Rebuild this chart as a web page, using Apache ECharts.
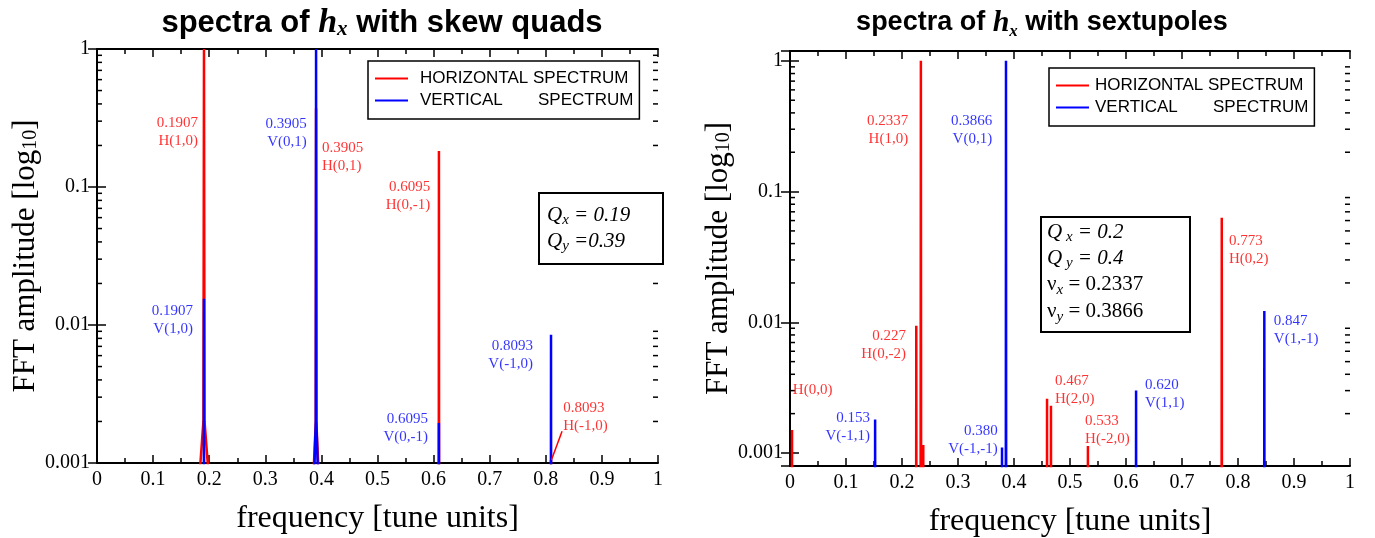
<!DOCTYPE html>
<html>
<head>
<meta charset="utf-8">
<script src="https://cdn.jsdelivr.net/npm/echarts@6/dist/echarts.min.js"></script>
<style>
html, body { margin: 0; padding: 0; background: #fff; }
#chart { width: 1375px; height: 538px; }
</style>
</head>
<body>
<div id="chart"></div>
<script>
// ---- data: [frequency, amplitude] ----
// left panel, skew quads
var skewH = [
  [0.179, 0.0005], [0.1897, 0.002], [0.1907, 1], [0.1917, 0.002], [0.203, 0.0005],
  [0.3835, 0.0005], [0.3900, 0.002], [0.3905, 0.37], [0.3910, 0.002], [0.3975, 0.0005],
  [0.6090, 0.00001], [0.6095, 0.182], [0.6100, 0.00001],
  [0.8088, 0.00001], [0.8093, 0.00105], [0.8098, 0.00001]
];
var skewV = [
  [0.1902, 0.00001], [0.1907, 0.0155], [0.1912, 0.00001],
  [0.3855, 0.0005], [0.3900, 0.002], [0.3905, 1], [0.3910, 0.002], [0.3955, 0.0005],
  [0.6090, 0.00001], [0.6095, 0.00195], [0.6100, 0.00001],
  [0.8088, 0.00001], [0.8093, 0.0085], [0.8098, 0.00001]
];
// right panel, sextupoles
var sextH = [
  [0.0031, 0.00001], [0.0036, 0.0015], [0.0041, 0.00001],
  [0.2250, 0.00001], [0.2255, 0.0094], [0.2260, 0.00001],
  [0.2330, 0.00001], [0.2337, 1], [0.2344, 0.00001],
  [0.2375, 0.00001], [0.2380, 0.00115], [0.2385, 0.00001],
  [0.4585, 0.00001], [0.4590, 0.0026], [0.4595, 0.00001],
  [0.4655, 0.00001], [0.4660, 0.0023], [0.4665, 0.00001],
  [0.5315, 0.00001], [0.5320, 0.00113], [0.5325, 0.00001],
  [0.7705, 0.00001], [0.7710, 0.063], [0.7715, 0.00001]
];
var sextV = [
  [0.1515, 0.00001], [0.1520, 0.0018], [0.1525, 0.00001],
  [0.3781, 0.00001], [0.3786, 0.0011], [0.3791, 0.00001],
  [0.3852, 0.00001], [0.3857, 1], [0.3862, 0.00001],
  [0.6175, 0.00001], [0.6180, 0.0030], [0.6185, 0.00001],
  [0.8465, 0.00001], [0.8470, 0.0122], [0.8475, 0.00001]
];

// peak notes: [frequency, amplitude, text, side of anchor, spectrum]
var skewNotes = [
  [0.180, 0.25, '0.1907\nH(1,0)', 'left', 'H'],
  [0.374, 0.246, '0.3905\nV(0,1)', 'left', 'V'],
  [0.401, 0.165, '0.3905\nH(0,1)', 'right', 'H'],
  [0.594, 0.086, '0.6095\nH(0,-1)', 'left', 'H'],
  [0.171, 0.0109, '0.1907\nV(1,0)', 'left', 'V'],
  [0.590, 0.00179, '0.6095\nV(0,-1)', 'left', 'V'],
  [0.777, 0.00607, '0.8093\nV(-1,0)', 'left', 'V'],
  [0.831, 0.00215, '0.8093\nH(-1,0)', 'right', 'H']
];
var sextNotes = [
  [0.211, 0.297, '0.2337\nH(1,0)', 'left', 'H'],
  [0.361, 0.297, '0.3866\nV(0,1)', 'left', 'V'],
  [0.207, 0.0067, '0.227\nH(0,-2)', 'left', 'H'],
  [0.005, 0.00304, 'H(0,0)', 'right', 'H'],
  [0.143, 0.00158, '0.153\nV(-1,1)', 'left', 'V'],
  [0.371, 0.00126, '0.380\nV(-1,-1)', 'left', 'V'],
  [0.473, 0.00304, '0.467\nH(2,0)', 'right', 'H'],
  [0.527, 0.0015, '0.533\nH(-2,0)', 'right', 'H'],
  [0.634, 0.00283, '0.620\nV(1,1)', 'right', 'V'],
  [0.784, 0.0358, '0.773\nH(0,2)', 'right', 'H'],
  [0.864, 0.00875, '0.847\nV(1,-1)', 'right', 'V']
];

var xTicks = ['0', '0.1', '0.2', '0.3', '0.4', '0.5', '0.6', '0.7', '0.8', '0.9', '1'];
var yTickLabels = { '-3': '0.001', '-2': '0.01', '-1': '0.1', '0': '1' };
var yMinorTicks = [0.002, 0.003, 0.004, 0.005, 0.006, 0.007, 0.008, 0.009,
  0.02, 0.03, 0.04, 0.05, 0.06, 0.07, 0.08, 0.09,
  0.2, 0.3, 0.4, 0.5, 0.6, 0.7, 0.8, 0.9];

var H_NAME = 'HORIZONTAL SPECTRUM';
var V_NAME = 'VERTICAL SPECTRUM';
var RED = '#ff0000', BLUE = '#0000ff';
var SERIF = 'Liberation Serif', SANS = 'Liberation Sans';

var myChart = echarts.init(document.getElementById('chart'));

function xAxes(grid) {
  var common = {
    gridIndex: grid, type: 'value', min: 0, max: 1, interval: 0.1,
    axisLine: { lineStyle: { color: '#000', width: 2 } },
    axisTick: { inside: true, length: 8, lineStyle: { color: '#000', width: 1.5 } },
    minorTick: { show: true, splitNumber: 2, length: 5, lineStyle: { color: '#000', width: 1.5 } },
    splitLine: { show: false }
  };
  return [
    Object.assign({}, common, {
      position: 'bottom',
      name: 'frequency [tune units]', nameLocation: 'middle', nameGap: 40,
      nameTextStyle: { fontFamily: SERIF, fontSize: 32, color: '#000' },
      axisLabel: {
        margin: 7, fontFamily: SERIF, fontSize: 20, color: '#000',
        formatter: function (v) { return xTicks[Math.round(v * 10)]; }
      }
    }),
    Object.assign({}, common, { position: 'top', axisLabel: { show: false } })
  ];
}

function yAxes(grid, min, max) {
  var common = {
    gridIndex: grid, type: 'log', logBase: 10, min: min, max: max,
    axisLine: { lineStyle: { color: '#000', width: 2 } },
    axisTick: { inside: true, length: 9, lineStyle: { color: '#000', width: 1.5 } },
    splitLine: { show: false }
  };
  return [
    Object.assign({}, common, {
      position: 'left',
      name: 'FFT amplitude [log{s|10}]', nameLocation: 'middle', nameGap: 55,
      nameTextStyle: {
        fontFamily: SERIF, fontSize: 31, color: '#000',
        rich: { s: { fontFamily: SERIF, fontSize: 20, color: '#000', verticalAlign: 'bottom', padding: [9, 0, 0, 0] } }
      },
      axisLabel: {
        margin: 7, fontFamily: SERIF, fontSize: 20, color: '#000',
        formatter: function (v) {
          var e = Math.log10(v);
          if (Math.abs(e - Math.round(e)) > 1e-6) return '';
          return yTickLabels[String(Math.round(e))] || '';
        }
      }
    }),
    Object.assign({}, common, { position: 'right', axisLabel: { show: false } })
  ];
}

function spectrum(name, data, color, xi, yi, z) {
  return {
    name: name, type: 'line', data: data, xAxisIndex: xi, yAxisIndex: yi,
    showSymbol: false, symbol: 'none', clip: true, z: z, animation: false,
    lineStyle: { color: color, width: 2.5 }, itemStyle: { color: color }
  };
}

function notes(list, xi, yi) {
  return {
    type: 'scatter', xAxisIndex: xi, yAxisIndex: yi, symbolSize: 0, silent: true, z: 6,
    data: list.map(function (n) {
      return {
        value: [n[0], n[1]],
        label: {
          show: true, position: n[3], distance: 0, formatter: n[2],
          fontFamily: SERIF, fontSize: 15, lineHeight: 18,
          color: n[4] === 'H' ? RED : BLUE
        }
      };
    })
  };
}

function minorTicks(xi, yi) {
  return {
    type: 'custom', xAxisIndex: xi, yAxisIndex: yi, silent: true, z: 5,
    data: yMinorTicks.map(function (v) { return [0, v]; }),
    renderItem: function (params, api) {
      var v = api.value(1);
      var l = api.coord([0, v]), r = api.coord([1, v]);
      var st = { stroke: '#000', lineWidth: 1.5 };
      return {
        type: 'group', children: [
          { type: 'line', shape: { x1: l[0], y1: l[1], x2: l[0] + 5, y2: l[1] }, style: st },
          { type: 'line', shape: { x1: r[0], y1: r[1], x2: r[0] - 5, y2: r[1] }, style: st }
        ]
      };
    }
  };
}

function legend(left, top, textGap) {
  return {
    left: left, top: top, orient: 'vertical', data: [H_NAME, V_NAME],
    selectedMode: false, icon: 'rect', itemWidth: 33, itemHeight: 2, itemGap: 5,
    padding: [9, 6, 10, 7], borderColor: '#000', borderWidth: 1.5, backgroundColor: '#fff',
    textStyle: {
      fontFamily: SANS, fontSize: 17, color: '#000', padding: [0, 0, 0, textGap],
      rich: { a: { fontFamily: SANS, fontSize: 17, color: '#000', width: 118 } }
    },
    formatter: function (name) {
      return name === V_NAME ? '{a|VERTICAL}SPECTRUM' : name;
    }
  };
}

function titleText(cx, size, rest) {
  return {
    type: 'text', x: cx, y: 23,
    style: {
      text: '{t|spectra of }{h|h}{x|x}{t| ' + rest + '}',
      align: 'center', verticalAlign: 'middle',
      rich: {
        t: { fontFamily: SANS, fontWeight: 'bold', fontSize: size, fill: '#000', lineHeight: 34 },
        h: { fontFamily: SERIF, fontWeight: 'bold', fontStyle: 'italic', fontSize: size + 3, fill: '#000', lineHeight: 34 },
        x: { fontFamily: SERIF, fontWeight: 'bold', fontStyle: 'italic', fontSize: size - 10, fill: '#000', verticalAlign: 'bottom', lineHeight: 18 }
      }
    }
  };
}

var qRich = {
  q: { fontFamily: SERIF, fontStyle: 'italic', fontSize: 21, fill: '#000', lineHeight: 26 },
  s: { fontFamily: SERIF, fontStyle: 'italic', fontSize: 15, fill: '#000', verticalAlign: 'bottom', lineHeight: 15 },
  n: { fontFamily: SERIF, fontSize: 21, fill: '#000', lineHeight: 27 }
};

var option = {
  animation: false,
  backgroundColor: '#fff',
  grid: [
    { left: 97, top: 49, width: 561, height: 414, containLabel: false, outerBoundsMode: 'none' },
    { left: 790, top: 51, width: 560, height: 415, containLabel: false, outerBoundsMode: 'none' }
  ],
  xAxis: xAxes(0).concat(xAxes(1)),
  yAxis: yAxes(0, 0.001, 1).concat(yAxes(1, 0.000795, 1.19)),
  legend: [legend(368, 61, 7), legend(1049, 68, 1)],
  series: [
    Object.assign(spectrum(H_NAME, skewH, RED, 0, 0, 2), {
      markLine: {
        silent: true, symbol: 'none', label: { show: false }, animation: false,
        lineStyle: { color: RED, width: 1.5, type: 'solid' },
        data: [[{ coord: [0.810, 0.00105] }, { coord: [0.829, 0.0017] }]]
      }
    }),
    spectrum(V_NAME, skewV, BLUE, 0, 0, 3),
    spectrum(H_NAME, sextH, RED, 2, 2, 2),
    spectrum(V_NAME, sextV, BLUE, 2, 2, 3),
    notes(skewNotes, 0, 0),
    notes(sextNotes, 2, 2),
    minorTicks(0, 0),
    minorTicks(2, 2)
  ],
  graphic: [
    titleText(382, 31, 'with skew quads'),
    titleText(1042, 27, 'with sextupoles'),
    {
      type: 'rect', shape: { x: 539, y: 193, width: 124, height: 71 },
      style: { fill: '#fff', stroke: '#000', lineWidth: 2 }, z: 10
    },
    {
      type: 'text', x: 547, y: 202, z: 11,
      style: { text: '{q|Q}{s|x}{q| = 0.19}\n{q|Q}{s|y}{q| =0.39}', rich: qRich }
    },
    {
      type: 'rect', shape: { x: 1041, y: 217, width: 149, height: 115 },
      style: { fill: '#fff', stroke: '#000', lineWidth: 2 }, z: 10
    },
    {
      type: 'text', x: 1047, y: 219, z: 11,
      style: {
        text: '{q|Q}{s| x}{q| = 0.2}\n{q|Q}{s| y}{q| = 0.4}\n{n|\u03bd}{s|x}{n| = 0.2337}\n{n|\u03bd}{s|y}{n| = 0.3866}',
        rich: qRich
      }
    }
  ]
};

myChart.setOption(option);
</script>
</body>
</html>
